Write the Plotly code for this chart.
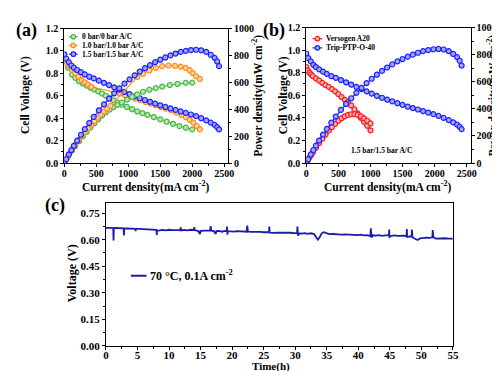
import plotly.graph_objects as go

W, H = 500, 371
FONT = "Liberation Serif"

# ---------------- Panel (a) data ----------------
a0_I_V = [0, 60, 120, 170, 230, 290, 350, 410, 470, 530, 590, 650, 710, 770, 830, 900, 980, 1060, 1140, 1220, 1300, 1400, 1500, 1600, 1700, 1800, 1900, 2000]
a0_V = [0.91, 0.85, 0.79, 0.76, 0.73, 0.71, 0.69, 0.67, 0.655, 0.64, 0.62, 0.60, 0.58, 0.56, 0.54, 0.52, 0.50, 0.48, 0.46, 0.445, 0.43, 0.41, 0.39, 0.37, 0.35, 0.33, 0.315, 0.30]
a0_I_P = [0, 60, 120, 170, 230, 290, 350, 410, 470, 530, 590, 650, 710, 770, 830, 900, 980, 1060, 1140, 1230, 1330, 1430, 1530, 1650, 1770, 1900, 2000]
a0_P = [0, 50, 92, 125, 162, 198, 232, 265, 296, 325, 352, 377, 398, 416, 432, 450, 472, 492, 510, 530, 545, 557, 568, 580, 588, 596, 598]

a1_I_V = [0, 40, 80, 120, 170, 220, 270, 320, 370, 420, 870, 950, 1030, 1110, 1190, 1270, 1350, 1430, 1510, 1590, 1670, 1750, 1830, 1900, 1960, 2020, 2070, 2120]
a1_V = [0.92, 0.89, 0.86, 0.83, 0.80, 0.77, 0.74, 0.72, 0.70, 0.68, 0.62, 0.605, 0.59, 0.575, 0.56, 0.545, 0.53, 0.515, 0.50, 0.485, 0.47, 0.45, 0.43, 0.41, 0.385, 0.36, 0.33, 0.30]
a1_I_P = [0, 40, 80, 120, 170, 220, 270, 320, 370, 420, 470, 520, 570, 620, 670, 720, 1140, 1230, 1330, 1430, 1530, 1630, 1730, 1820, 1900, 1960, 2010, 2060, 2120]
a1_P = [0, 36, 70, 100, 136, 170, 200, 230, 259, 286, 312, 337, 360, 383, 404, 425, 640, 664, 688, 707, 720, 725, 722, 717, 707, 690, 668, 645, 625]

b15_I = [0, 30, 70, 110, 150, 200, 260, 320, 390, 460, 540, 620, 700, 780, 860, 940, 1020, 1100, 1180, 1260, 1340, 1420, 1500, 1580, 1660, 1740, 1820, 1900, 1980, 2060, 2140, 2220, 2290, 2350, 2390, 2420]
b15_V = [0.97, 0.93, 0.90, 0.87, 0.85, 0.83, 0.81, 0.79, 0.77, 0.755, 0.735, 0.715, 0.695, 0.675, 0.655, 0.635, 0.615, 0.595, 0.578, 0.562, 0.546, 0.53, 0.515, 0.50, 0.487, 0.474, 0.46, 0.447, 0.433, 0.418, 0.40, 0.38, 0.36, 0.34, 0.32, 0.30]
b15_P = [0, 28, 63, 96, 128, 166, 210, 252, 298, 343, 392, 436, 478, 518, 555, 590, 622, 652, 680, 705, 728, 750, 768, 785, 800, 814, 826, 834, 840, 842, 838, 826, 805, 782, 755, 720]

# ---------------- Panel (b) data ----------------
ver_I = [0, 25, 50, 75, 100, 150, 200, 250, 300, 350, 400, 450, 500, 550, 600, 650, 700, 750, 800, 850, 900, 950, 1000]
ver_V = [0.85, 0.82, 0.80, 0.785, 0.77, 0.75, 0.73, 0.71, 0.69, 0.675, 0.655, 0.635, 0.61, 0.585, 0.56, 0.54, 0.51, 0.475, 0.44, 0.40, 0.365, 0.33, 0.29]
ver_P = [0, 21, 42, 60, 78, 113, 147, 179, 210, 239, 266, 290, 312, 330, 345, 355, 360, 360, 355, 345, 330, 312, 292]

# ---------------- Panel (c) data ----------------
time_h = [0.0, 0.3, 0.6, 0.9, 1.15, 1.2, 1.25, 1.5, 2.0, 2.5, 2.8, 2.85, 2.9, 3.3, 3.8, 4.2, 4.65, 4.7, 4.75, 5.2,
          5.7, 6.2, 6.7, 7.2, 7.7, 8.0, 8.05, 8.1, 8.5, 9.0, 9.5, 10.0, 10.5, 11.0, 11.5, 11.8, 11.85, 11.9, 12.4, 12.9,
          13.4, 13.9, 14.0, 14.1, 14.6, 14.9, 15.0, 15.5, 16.0, 16.5, 16.6, 16.7, 17.1, 17.4, 17.5, 17.9, 18.4, 18.8, 19.15, 19.2,
          19.25, 19.3, 19.8, 20.3, 20.8, 21.3, 21.8, 22.3, 22.4, 22.5, 23.0, 23.5, 24.0, 24.5, 25.0, 25.5, 25.85, 25.9, 25.95, 26.3,
          26.8, 27.3, 27.8, 28.3, 28.8, 29.3, 29.8, 30.3, 30.35, 30.45, 30.6, 31.0, 31.5, 32.0, 32.5, 33.0, 33.3, 33.6, 33.9, 34.2,
          34.5, 34.9, 35.4, 35.9, 36.4, 36.9, 37.4, 37.9, 38.4, 38.9, 39.4, 39.9, 40.4, 40.9, 41.4, 41.9, 42.0, 42.1, 42.3, 42.8,
          43.3, 43.8, 44.3, 44.85, 44.9, 44.95, 45.3, 45.8, 46.3, 46.8, 47.3, 47.65, 47.7, 47.75, 48.1, 48.45, 48.5, 48.6, 49.0, 49.4,
          49.8, 50.3, 50.8, 51.3, 51.75, 51.8, 51.9, 52.3, 52.8, 53.3, 53.8, 54.3, 54.8, 55.0]
voltage_v = [0.667, 0.668, 0.666, 0.667, 0.666, 0.595, 0.665, 0.666, 0.665, 0.664, 0.664, 0.624, 0.663, 0.663, 0.662, 0.662, 0.661, 0.648, 0.661, 0.661,
             0.660, 0.660, 0.659, 0.658, 0.657, 0.656, 0.626, 0.650, 0.652, 0.655, 0.653, 0.656, 0.654, 0.655, 0.653, 0.654, 0.670, 0.652, 0.655, 0.653,
             0.656, 0.654, 0.670, 0.653, 0.650, 0.632, 0.650, 0.652, 0.654, 0.652, 0.677, 0.651, 0.648, 0.632, 0.648, 0.650, 0.645, 0.650, 0.648, 0.674,
             0.628, 0.648, 0.647, 0.645, 0.648, 0.646, 0.647, 0.645, 0.680, 0.646, 0.644, 0.645, 0.643, 0.644, 0.642, 0.643, 0.642, 0.674, 0.640, 0.638,
             0.641, 0.640, 0.639, 0.640, 0.638, 0.639, 0.637, 0.638, 0.674, 0.622, 0.636, 0.634, 0.637, 0.633, 0.636, 0.632, 0.615, 0.600, 0.615, 0.636,
             0.642, 0.637, 0.631, 0.632, 0.630, 0.631, 0.629, 0.630, 0.628, 0.629, 0.627, 0.626, 0.628, 0.624, 0.626, 0.620, 0.664, 0.612, 0.625, 0.623,
             0.626, 0.622, 0.624, 0.625, 0.657, 0.615, 0.622, 0.624, 0.621, 0.623, 0.622, 0.620, 0.660, 0.615, 0.619, 0.618, 0.657, 0.612, 0.605, 0.598,
             0.607, 0.611, 0.612, 0.610, 0.613, 0.654, 0.614, 0.606, 0.608, 0.606, 0.608, 0.606, 0.607, 0.606]

# tick labels
cd_ticks = [0, 500, 1000, 1500, 2000, 2500]
cv_ticks = [0.0, 0.2, 0.4, 0.6, 0.8, 1.0, 1.2]
pd_ticks = [0, 200, 400, 600, 800, 1000]
t_ticks = [0, 5, 10, 15, 20, 25, 30, 35, 40, 45, 50, 55]
vt_ticks = [0.0, 0.15, 0.30, 0.45, 0.60, 0.75]

GREEN, ORANGE, BLUE, LBLUE, RED, NAVY = "#4cb648", "#ff8c1a", "#1e1eff", "#3a8cff", "#ff1a1a", "#1c1ca8"
FILL = {GREEN: "#b5e6b0", ORANGE: "#ffd2a0", BLUE: "#9fa8ff", RED: "#ffb0b0"}


def px(x):
    return x / W


def py(y):
    return 1 - y / H


fig = go.Figure()


def series(x, y, color, xa, ya, linecolor=None):
    fig.add_trace(go.Scatter(
        x=x, y=y, mode="lines+markers", xaxis=xa, yaxis=ya, showlegend=False,
        line=dict(color=linecolor or color, width=1.2),
        marker=dict(symbol="circle", size=5, color=FILL[color], line=dict(color=color, width=1.2)),
    ))


# Panel (a)
series(a0_I_V, a0_V, GREEN, "x", "y")
series(a0_I_P, a0_P, GREEN, "x", "y2")
series(a1_I_V, a1_V, ORANGE, "x", "y")
series(a1_I_P, a1_P, ORANGE, "x", "y2")
series(b15_I, b15_V, BLUE, "x", "y", LBLUE)
series(b15_I, b15_P, BLUE, "x", "y2")
# Panel (b)
series(ver_I, ver_V, RED, "x2", "y3")
series(ver_I, ver_P, RED, "x2", "y4")
series(b15_I, b15_V, BLUE, "x2", "y3", LBLUE)
series(b15_I, b15_P, BLUE, "x2", "y4")
# Panel (c)
fig.add_trace(go.Scatter(x=time_h, y=voltage_v, mode="lines", xaxis="x3", yaxis="y5", showlegend=False,
                         line=dict(color=NAVY, width=1.8)))

tickfont = dict(family=FONT, size=10, color="black", weight="bold")
tickfont_c = dict(family=FONT, size=11, color="black", weight="bold")


def axis(domain, rng, tickvals, fmt, anchor, font, side=None, overlaying=None, minor_dtick=None,
         mirror=True, standoff=0):
    d = dict(domain=domain, range=rng, tickvals=tickvals, tickformat=fmt, anchor=anchor,
             showline=True, linecolor="black", linewidth=1, mirror=mirror, ticks="outside",
             ticklen=3, tickwidth=1, tickcolor="black", showgrid=False, zeroline=False,
             tickfont=font, fixedrange=True, ticklabelstandoff=standoff)
    if minor_dtick:
        d["minor"] = dict(dtick=minor_dtick, ticks="outside", ticklen=2, tickcolor="black", showgrid=False)
    if side:
        d["side"] = side
    if overlaying:
        d["overlaying"] = overlaying
    return d


ya_dom = [py(154), py(15)]
yb_dom = [py(154), py(14)]
fig.update_layout(
    width=W, height=H, margin=dict(l=0, r=0, t=0, b=0),
    paper_bgcolor="white", plot_bgcolor="white",
    xaxis=axis([px(54.3), px(221)], [0, 2560], cd_ticks, "d", "y", tickfont, minor_dtick=250, standoff=-2),
    yaxis=axis(ya_dom, [0, 1.2], cv_ticks, ".1f", "x", tickfont, minor_dtick=0.1),
    yaxis2=axis(ya_dom, [0, 1000], pd_ticks, "d", "x", tickfont, side="right", overlaying="y", minor_dtick=100, mirror=False),
    xaxis2=axis([px(300.7), px(468)], [0, 2560], cd_ticks, "d", "y3", tickfont, minor_dtick=250, standoff=-2),
    yaxis3=axis(yb_dom, [0, 1.2], cv_ticks, ".1f", "x2", tickfont, minor_dtick=0.1),
    yaxis4=axis(yb_dom, [0, 1000], pd_ticks, "d", "x2", tickfont, side="right", overlaying="y3", minor_dtick=100, mirror=False),
    xaxis3=axis([px(96.7), px(450)], [0, 55], t_ticks, "d", "y5", tickfont_c, minor_dtick=2.5, standoff=-4),
    yaxis5=axis([py(343), py(195.7)], [0, 0.805], vt_ticks, ".2f", "x3", tickfont_c, minor_dtick=0.075),
)

ann = []


def text(x, y, s, size, angle=0, xanchor="center"):
    ann.append(dict(x=px(x), y=py(y), xref="paper", yref="paper", text=s, showarrow=False,
                    textangle=angle, xanchor=xanchor, yanchor="middle",
                    font=dict(family=FONT, size=size, color="black", weight="bold")))


# panel labels
text(16, 17, "(a)", 18)
text(268, 17, "(b)", 18)
text(45, 198, "(c)", 18)
# axis titles
text(15, 84, "Cell Voltage (V)", 11.5, -90)
text(251, 84, "Power density(mW cm<sup>-2</sup>)", 11.5, -90)
text(137, 178.5, "Current density(mA cm<sup>-2</sup>)", 11.5)
text(277, 84, "Cell Voltage (V)", 11.5, -90)
text(490, 84, "Power density(mW cm<sup>-2</sup>)", 11.5, -90)
text(383, 178.5, "Current density(mA cm<sup>-2</sup>)", 11.5)
text(62, 268, "Voltage (V)", 12, -90)
text(265, 364.5, "Time(h)", 11)
text(377, 141, "1.5 bar/1.5 bar A/C", 7.5)

shapes = []


def legend_item(x0, x1, y, color, label, size=7.5, marker=True, width=1.2, fill=None):
    shapes.append(dict(type="line", xref="paper", yref="paper", x0=px(x0), x1=px(x1), y0=py(y), y1=py(y),
                       line=dict(color=color, width=width)))
    if marker:
        cx = (x0 + x1) / 2
        r = 2.3
        shapes.append(dict(type="circle", xref="paper", yref="paper", x0=px(cx - r), x1=px(cx + r),
                           y0=py(y + r), y1=py(y - r), fillcolor=fill, line=dict(color=color, width=1.2)))
    text(x1 + 2, y, label, size, xanchor="left")


legend_item(59, 68, 23.5, GREEN, "0 bar/0 bar A/C", fill=FILL[GREEN])
legend_item(59, 68, 32.5, ORANGE, "1.0 bar/1.0 bar A/C", fill=FILL[ORANGE])
legend_item(59, 68, 41.5, BLUE, "1.5 bar/1.5 bar A/C", fill=FILL[BLUE])
legend_item(307, 317, 25.5, RED, "Versogen A20", fill=FILL[RED])
legend_item(307, 317, 35, BLUE, "Trip-PTP-O-40", fill=FILL[BLUE])
legend_item(122, 138, 270.5, NAVY, "70 °C, 0.1A cm<sup>-2</sup>", size=12, marker=False, width=2)

fig.update_layout(annotations=ann, shapes=shapes)
fig.write_html("out.html")
